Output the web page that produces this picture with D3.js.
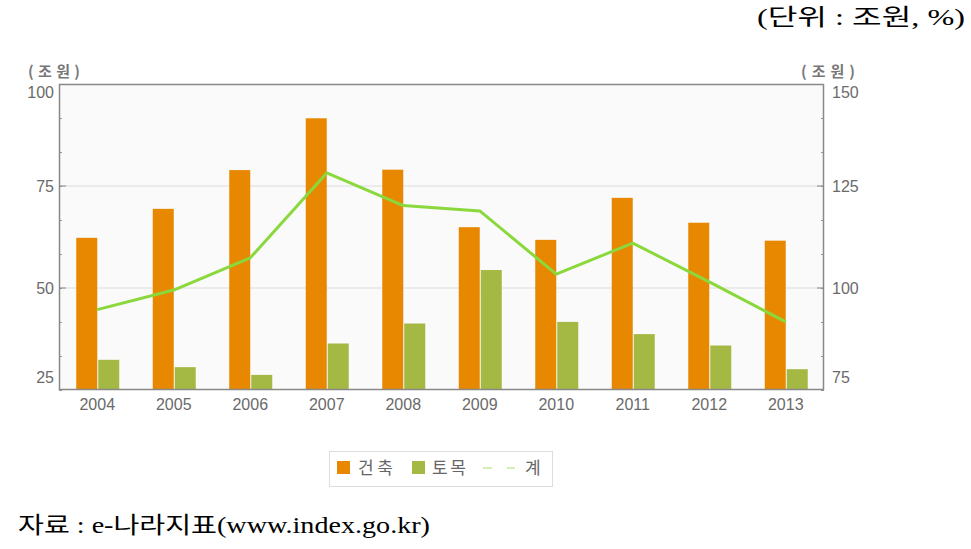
<!DOCTYPE html>
<html><head><meta charset="utf-8">
<script src="https://cdn.jsdelivr.net/npm/d3@7"></script>
<style>body{margin:0;background:#fff}svg{display:block}</style>
</head><body>
<script>
const years = ["2004","2005","2006","2007","2008","2009","2010","2011","2012","2013"];
const building = [62.3,69.4,78.9,91.6,79.0,64.9,61.8,72.1,66.0,61.6];
const civil = [32.4,30.6,28.7,36.4,41.3,54.4,41.7,38.7,35.9,30.1];
const total = [94.7,99.5,107.4,128.2,120.2,118.9,103.4,111.0,101.5,91.7];
const leftTicks = [25,50,75,100];
const rightTicks = [75,100,125,150];
const seriesNames = ["건축","토목","계"];

const W=971,H=549;
const svg=d3.select("body").append("svg").attr("width",W).attr("height",H);
const L=59,R=824,T=84,B=390;
const x=d3.scaleBand().domain(years).range([L,R]);
const yL=d3.scaleLinear().domain([25,100]).range([B,T]);
const yR=d3.scaleLinear().domain([75,150]).range([B,T]);

svg.append("rect").attr("x",L).attr("y",T).attr("width",R-L).attr("height",B-T).attr("fill","#fafafa");
svg.append("g").selectAll("line").data([50,75]).join("line")
 .attr("x1",L).attr("x2",R).attr("y1",d=>yL(d)).attr("y2",d=>yL(d))
 .attr("stroke","#dcdcdc").attr("stroke-width",1);
const minor=d3.range(25,100.01,25/3);
svg.append("g").selectAll("line").data(minor).join("line")
 .attr("x1",L).attr("x2",L+3).attr("y1",d=>Math.round(yL(d))+0.5).attr("y2",d=>Math.round(yL(d))+0.5).attr("stroke","#999");
svg.append("g").selectAll("line").data(minor).join("line")
 .attr("x1",R-3).attr("x2",R).attr("y1",d=>Math.round(yL(d))+0.5).attr("y2",d=>Math.round(yL(d))+0.5).attr("stroke","#999");
svg.append("g").selectAll("line").data([50,75]).join("line")
 .attr("x1",L).attr("x2",L+7).attr("y1",d=>yL(d)).attr("y2",d=>yL(d)).attr("stroke","#888");
svg.append("g").selectAll("line").data([50,75]).join("line")
 .attr("x1",R-7).attr("x2",R).attr("y1",d=>yL(d)).attr("y2",d=>yL(d)).attr("stroke","#888");

const bw=21;
const g=svg.append("g");
g.selectAll(".b").data(years).join("rect")
 .attr("x",(d)=>x(d)+x.bandwidth()/2-bw).attr("width",bw)
 .attr("y",(d,i)=>yL(building[i])).attr("height",(d,i)=>B-yL(building[i]))
 .attr("fill","#e88800");
g.selectAll(".c").data(years).join("rect")
 .attr("x",(d)=>x(d)+x.bandwidth()/2+1).attr("width",bw)
 .attr("y",(d,i)=>yL(civil[i])).attr("height",(d,i)=>B-yL(civil[i]))
 .attr("fill","#a4b844");
const line=d3.line().x((d,i)=>x(years[i])+x.bandwidth()/2).y(d=>yR(d));
svg.append("path").datum(total).attr("d",line).attr("fill","none")
 .attr("stroke","#8ad83c").attr("stroke-width",3).attr("stroke-linejoin","round");

svg.append("rect").attr("x",L+0.5).attr("y",T+0.5).attr("width",R-L-1).attr("height",B-T-1)
 .attr("fill","none").attr("stroke","#888").attr("stroke-width",1.5);

const tf="'Liberation Sans', Arial, sans-serif";
svg.append("g").selectAll("text").data(leftTicks).join("text")
 .attr("x",L-5).attr("y",d=>d===100?yL(d)+14:d===25?yL(d)-7:yL(d)+6)
 .attr("text-anchor","end").attr("font-family",tf).attr("font-size",16).attr("fill","#6a6a6a").text(d=>d);
svg.append("g").selectAll("text").data(rightTicks).join("text")
 .attr("x",R+8).attr("y",d=>d===150?yR(d)+14:d===75?yR(d)-7:yR(d)+6)
 .attr("text-anchor","start").attr("font-family",tf).attr("font-size",16).attr("fill","#6a6a6a").text(d=>d);
svg.append("g").selectAll("text").data(years).join("text")
 .attr("x",d=>x(d)+x.bandwidth()/2).attr("y",B+20)
 .attr("text-anchor","middle").attr("font-family",tf).attr("font-size",16).attr("fill","#6a6a6a").text(d=>d);

const kf="'Noto Sans CJK KR', sans-serif";
svg.append("text").attr("x",28).attr("y",77).attr("font-family",kf).attr("font-weight","bold")
 .attr("font-size",15).attr("fill","#777").attr("textLength",52).attr("lengthAdjust","spacing").text("(조원)");
svg.append("text").attr("x",801).attr("y",77).attr("font-family",kf).attr("font-weight","bold")
 .attr("font-size",15).attr("fill","#777").attr("textLength",54).attr("lengthAdjust","spacing").text("(조원)");

const lg=svg.append("g");
lg.append("rect").attr("x",329.5).attr("y",451.5).attr("width",223).attr("height",35).attr("fill","#fff").attr("stroke","#ddd");
lg.append("rect").attr("x",337).attr("y",461).attr("width",13).attr("height",13).attr("fill","#e88800");
lg.append("rect").attr("x",412).attr("y",461).attr("width",13).attr("height",13).attr("fill","#a4b844");
lg.append("line").attr("x1",483).attr("x2",515).attr("y1",468).attr("y2",468).attr("stroke","#c8e8a0").attr("stroke-width",1.5).attr("stroke-dasharray","9,15");
lg.append("text").attr("x",358).attr("y",474).attr("font-family",kf).attr("font-size",17).attr("fill","#666").attr("textLength",35).attr("lengthAdjust","spacing").text(seriesNames[0]);
lg.append("text").attr("x",432).attr("y",474).attr("font-family",kf).attr("font-size",17).attr("fill","#666").attr("textLength",34).attr("lengthAdjust","spacing").text(seriesNames[1]);
lg.append("text").attr("x",525).attr("y",474).attr("font-family",kf).attr("font-size",17).attr("fill","#666").text(seriesNames[2]);

const sf="'Liberation Serif', 'Noto Sans CJK KR', serif";
svg.append("text").attr("x",757).attr("y",25).attr("font-family",sf).attr("font-size",23).attr("fill","#000")
 .attr("textLength",208).attr("lengthAdjust","spacingAndGlyphs").text("(단위 : 조원,   %)");
svg.append("text").attr("x",18).attr("y",533).attr("font-family",sf).attr("font-size",23).attr("fill","#000")
 .attr("textLength",412).attr("lengthAdjust","spacingAndGlyphs").text("자료 : e-나라지표(www.index.go.kr)");
</script>
</body></html>
